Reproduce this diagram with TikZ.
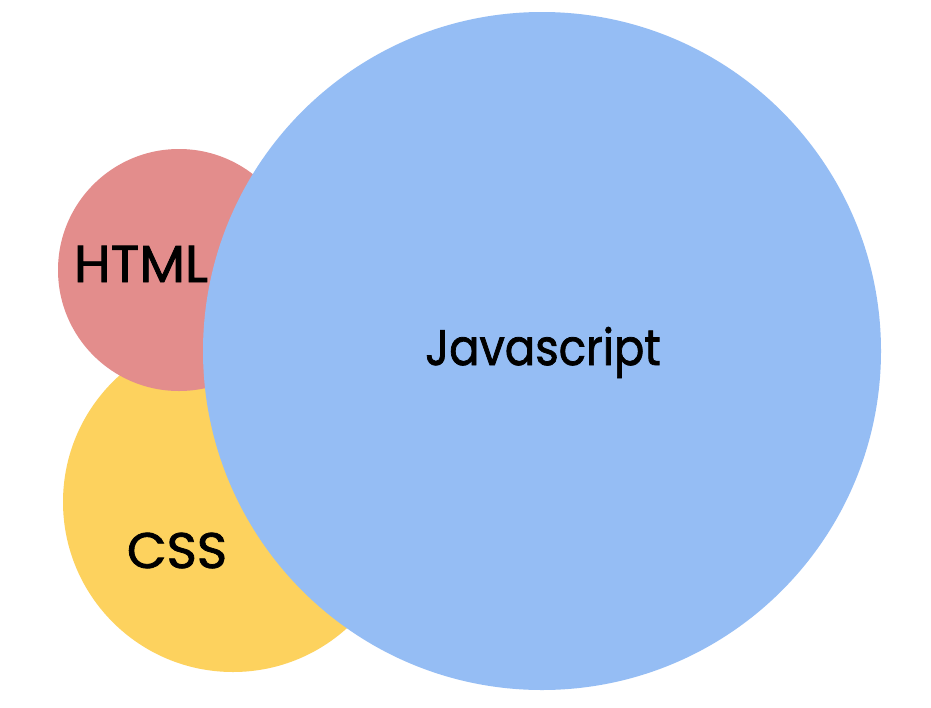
\documentclass[tikz,border=0pt]{standalone}
\usepackage{fontspec}
\setmainfont{Poppins}
\newfontfamily\lblfont{Poppins}[FakeBold=1.6]
\definecolor{jsblue}{HTML}{95BDF4}
\definecolor{htmlred}{HTML}{E38D8C}
\definecolor{cssyellow}{HTML}{FDD25E}
\tikzset{
  bubble/.style={circle, draw=none, inner sep=0pt},
  lbl/.style={text=black, inner sep=0pt, anchor=base}
}
\begin{document}
\begin{tikzpicture}[x=1pt,y=-1pt]
\useasboundingbox[fill=white] (0,0) rectangle (931,707);
\node[bubble, fill=cssyellow, minimum size=340pt] (css) at (233,502) {};
\node[bubble, fill=htmlred, minimum size=242pt] (html) at (179,270) {};
\node[bubble, fill=jsblue, minimum size=678pt] (js) at (542,351) {};
\node[lbl, font=\lblfont\fontsize{52}{56}\selectfont] (htmlt) at (141,282) {\scalebox{1.02}[1]{HTML}};
\node[lbl, font=\lblfont\fontsize{50}{54}\selectfont] (csst) at (177,568) {\scalebox{1.03}[1]{CSS}};
\node[lbl, font=\lblfont\fontsize{50}{54}\selectfont] (jst) at (543,365) {\scalebox{0.9}[1]{Javascript}};
\end{tikzpicture}
\end{document}
